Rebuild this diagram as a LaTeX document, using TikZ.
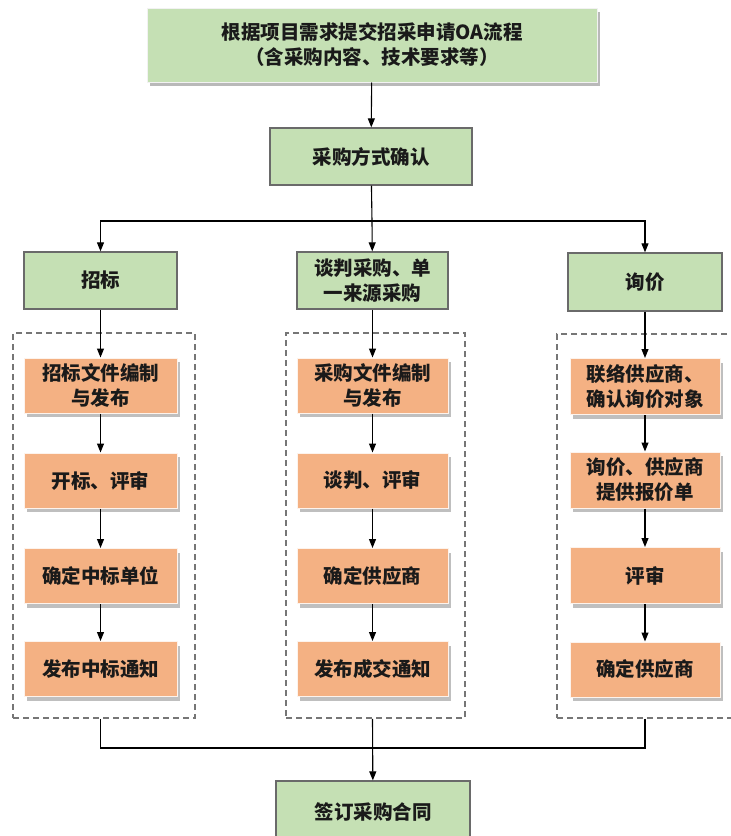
\documentclass[tikz,border=0pt]{standalone}
\usepackage{fontspec}
\newfontfamily\cjk{Noto Sans CJK SC}
\usetikzlibrary{arrows.meta,shadows}
\definecolor{gfill}{HTML}{C5E0B4}
\definecolor{ofill}{HTML}{F4B183}
\definecolor{bord}{HTML}{6A6A6A}
\definecolor{dash}{HTML}{767676}
\definecolor{txt}{HTML}{1A1A1A}
\tikzset{
  base/.style={rectangle, align=center, text=txt, font=\cjk\bfseries\fontsize{19.5}{25}\selectfont, inner sep=0pt},
  gbox/.style={base, fill=gfill, draw=bord, line width=1.3pt},
  topbox/.style={base, fill=gfill, draw=white!90!gray, line width=1pt,
     drop shadow={shadow xshift=3pt, shadow yshift=-4pt, fill=gray, opacity=.55}},
  obox/.style={base, fill=ofill, draw=white!85!ofill, line width=1pt,
     drop shadow={shadow xshift=3pt, shadow yshift=-4pt, fill=gray, opacity=.5}},
  grp/.style={rectangle, draw=dash, line width=1.5pt, dash pattern=on 6pt off 4pt},
  arr/.style={draw=black, line width=1.1pt, -{Triangle[length=9pt,width=7pt]}},
  ln/.style={draw=black, line width=1.1pt}
}
\begin{document}
\begin{tikzpicture}[x=1pt,y=-1pt]
\clip (0,0) rectangle (731,836);
\fill[white] (0,0) rectangle (731,836);
% dashed groups
\node[grp, minimum width=182pt, minimum height=385pt] (g1) at (104,525.5) {};
\node[grp, minimum width=179pt, minimum height=385pt] (g2) at (375.5,525.5) {};
\node[grp, minimum width=183pt, minimum height=384pt] (g3) at (648.5,526) {};
% main boxes
\node[topbox, minimum width=450pt, minimum height=74pt] (top) at (372,45) {根据项目需求提交招采申请OA流程\\（含采购内容、技术要求等）};
\node[gbox, minimum width=202pt, minimum height=57pt] (conf) at (371,156.5) {采购方式确认};
\node[gbox, minimum width=153pt, minimum height=57pt] (zb) at (100.5,280.5) {招标};
\node[gbox, minimum width=151pt, minimum height=57pt] (tp) at (372.5,280.5) {谈判采购、单\\一来源采购};
\node[gbox, minimum width=154pt, minimum height=58pt] (xj) at (645,282) {询价};
% left column
\node[obox, minimum width=153pt, minimum height=55pt] (a1) at (100.5,385.5) {招标文件编制\\与发布};
\node[obox, minimum width=153pt, minimum height=55pt] (a2) at (100.5,480.5) {开标、评审};
\node[obox, minimum width=153pt, minimum height=55pt] (a3) at (100.5,576) {确定中标单位};
\node[obox, minimum width=153pt, minimum height=55pt] (a4) at (100.5,669) {发布中标通知};
% middle column
\node[obox, minimum width=151pt, minimum height=55pt] (b1) at (372.5,385.5) {采购文件编制\\与发布};
\node[obox, minimum width=151pt, minimum height=55pt] (b2) at (372.5,480.5) {谈判、评审};
\node[obox, minimum width=151pt, minimum height=55pt] (b3) at (372.5,576) {确定供应商};
\node[obox, minimum width=151pt, minimum height=55pt] (b4) at (372.5,669) {发布成交通知};
% right column
\node[obox, minimum width=150pt, minimum height=56pt] (c1) at (645,386.5) {联络供应商、\\确认询价对象};
\node[obox, minimum width=150pt, minimum height=56pt] (c2) at (645,480) {询价、供应商\\提供报价单};
\node[obox, minimum width=150pt, minimum height=56pt] (c3) at (645,575.5) {评审};
\node[obox, minimum width=150pt, minimum height=55pt] (c4) at (645,669.5) {确定供应商};
% final
\node[gbox, minimum width=194pt, minimum height=62pt] (fin) at (373,812) {签订采购合同};
% connectors
\coordinate (hb) at (372,221);
\coordinate (jb) at (373,748);
\draw[arr] (top) -- (conf);
\draw[ln] (conf) -- (hb);
\draw[arr] (hb) -| (zb.north);
\draw[arr] (hb) -| (xj.north);
\draw[arr] (hb) -- (tp);
\foreach \p/\q in {zb/a1,a1/a2,a2/a3,a3/a4,tp/b1,b1/b2,b2/b3,b3/b4,xj/c1,c1/c2,c2/c3,c3/c4}{
  \draw[arr] (\p) -- (\q);
}
\draw[ln] (zb |- g1.south) |- (jb);
\draw[ln] (xj |- g3.south) |- (jb);
\draw[arr] (tp |- g2.south) -- (fin);
\end{tikzpicture}
\end{document}
